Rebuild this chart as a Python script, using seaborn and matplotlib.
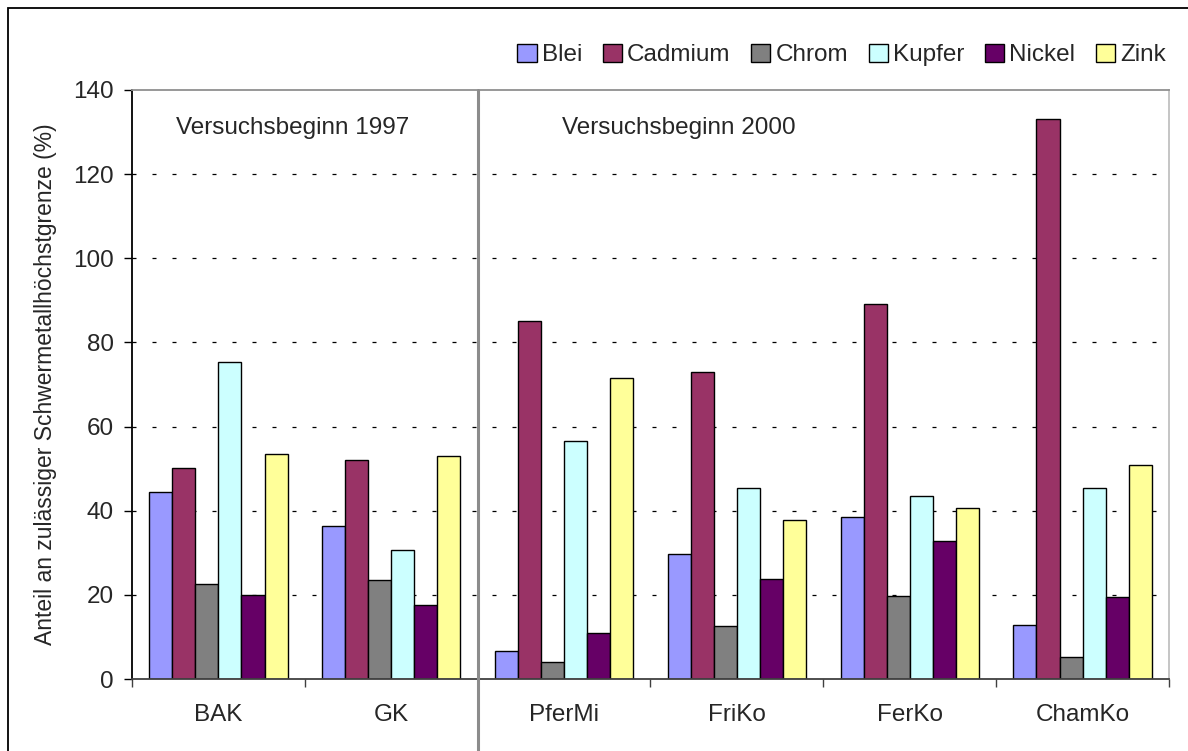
import pandas as pd
import matplotlib.pyplot as plt
import seaborn as sns
from matplotlib.patches import Rectangle
from matplotlib.lines import Line2D

# Data (% of permissible heavy metal limit)
sites = ['BAK', 'GK', 'PferMi', 'FriKo', 'FerKo', 'ChamKo']
metals = ['Blei', 'Cadmium', 'Chrom', 'Kupfer', 'Nickel', 'Zink']
blei = [44.4, 36.4, 6.7, 29.6, 38.6, 12.8]
cadmium = [50.1, 52.0, 85.0, 73.0, 89.1, 133.2]
chrom = [22.5, 23.5, 4.1, 12.7, 19.7, 5.3]
kupfer = [75.3, 30.6, 56.6, 45.3, 43.4, 45.3]
nickel = [20.0, 17.7, 11.0, 23.8, 32.9, 19.6]
zink = [53.4, 53.0, 71.6, 37.7, 40.6, 50.9]
colors = ['#9999FF', '#993366', '#808080', '#CCFFFF', '#660066', '#FFFF99']

rows = []
for metal, vals in zip(metals, [blei, cadmium, chrom, kupfer, nickel, zink]):
    for site, v in zip(sites, vals):
        rows.append({'Standort': site, 'Metall': metal, 'Wert': v})
df = pd.DataFrame(rows)

sns.set_style('white')
plt.rcParams['font.family'] = ['Liberation Sans', 'DejaVu Sans']
fs = 17.5

fig = plt.figure(figsize=(11.88, 7.51), dpi=100)
ax = fig.add_axes([132 / 1188, 72 / 751, 1037 / 1188, 589 / 751])

sns.barplot(data=df, x='Standort', y='Wert', hue='Metall', order=sites,
            hue_order=metals, palette=colors, width=0.8, saturation=1,
            edgecolor='black', linewidth=1.0, ax=ax, legend=False)

ax.set_xlim(-0.5, 5.5)
ax.set_ylim(0, 140)
ax.set_yticks(range(0, 141, 20))
ax.set_xlabel('')
ax.set_ylabel('Anteil an zulässiger Schwermetallhöchstgrenze (%)', fontsize=16.5, labelpad=12)

# dashed grid lines
for y in range(20, 140, 20):
    ax.axhline(y, color='black', lw=0.9, ls=(0, (3.2, 12.8)), zorder=0.5)

ax.tick_params(axis='y', which='major', direction='out', length=6, width=1,
               color='black', labelsize=fs, pad=7, left=True)
ax.tick_params(axis='x', which='major', length=0, labelsize=fs, pad=18)
ax.set_xticks([i - 0.5 for i in range(7)], minor=True)
ax.tick_params(axis='x', which='minor', direction='out', length=6, width=1,
               color='#404040', bottom=True)

for side, col in [('left', 'black'), ('bottom', '#404040'),
                  ('top', '#909090'), ('right', '#C0C0C0')]:
    ax.spines[side].set_visible(True)
    ax.spines[side].set_color(col)
    ax.spines[side].set_linewidth(1.3)

# separator between the two trial starts
trans = ax.get_xaxis_transform()
ax.add_line(Line2D([1.5, 1.5], [1.0, -0.13], transform=trans, color='#8C8C8C',
                   lw=2.2, clip_on=False, zorder=5))

ax.text(0.042, 0.935, 'Versuchsbeginn 1997', transform=ax.transAxes,
        fontsize=fs, va='center', ha='left')
ax.text(0.415, 0.935, 'Versuchsbeginn 2000', transform=ax.transAxes,
        fontsize=fs, va='center', ha='left')

# legend
handles = [Rectangle((0, 0), 1, 1, facecolor=c, edgecolor='black', lw=1)
           for c in colors]
fig.legend(handles, metals, loc='center right', bbox_to_anchor=(1166 / 1188, 1 - 55 / 751),
           ncol=6, frameon=False, fontsize=fs, handlelength=0.8, handleheight=0.8,
           handletextpad=0.2, columnspacing=0.85, borderaxespad=0, borderpad=0)

# outer chart frame
fig.add_artist(Rectangle((8 / 1188, -0.1), 1.2, 1.1 - 8 / 751,
                         transform=fig.transFigure, fill=False,
                         edgecolor='black', lw=1.3))

fig.savefig('out.png', dpi=100)
